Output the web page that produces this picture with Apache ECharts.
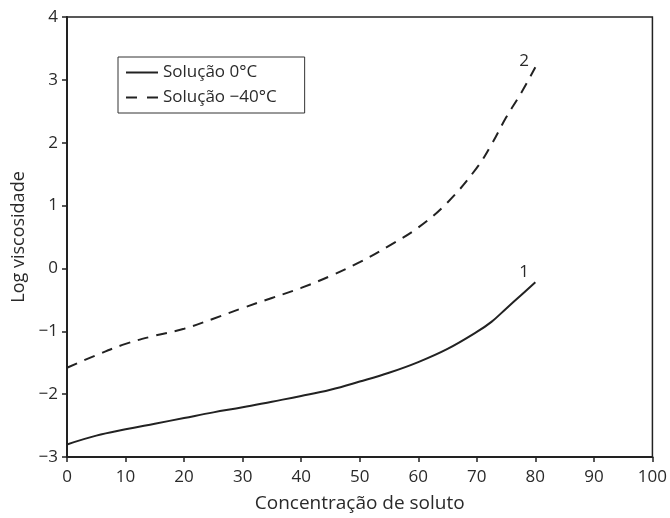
<!DOCTYPE html>
<html>
<head>
<meta charset="utf-8">
<script src="https://cdn.jsdelivr.net/npm/echarts@6/dist/echarts.min.js"></script>
<style>
  html, body { margin: 0; padding: 0; background: #fff; }
  #chart { width: 670px; height: 518px; }
</style>
</head>
<body>
<div id="chart"></div>
<script>
// concentração de soluto (%)
const concentracao = [0, 5, 10, 15, 20, 25, 30, 35, 40, 45, 50, 55, 60, 65, 70, 72.5, 75, 77.5, 80]
// curva 1: solução 0°C
const sol0 = [-2.8, -2.66, -2.56, -2.47, -2.38, -2.29, -2.21, -2.12, -2.03, -1.93, -1.8, -1.66, -1.49, -1.28, -1.01, -0.85, -0.64, -0.43, -0.22]
// curva 2: solução -40°C
const sol40 = [-1.58, -1.38, -1.2, -1.07, -0.96, -0.8, -0.63, -0.47, -0.31, -0.12, 0.1, 0.36, 0.65, 1.05, 1.6, 1.97, 2.4, 2.78, 3.2]

const fontFamily = '"Open Sans", Lato, sans-serif'
const textColor = '#2a2a2a'

const chart = echarts.init(document.getElementById('chart'))

chart.setOption({
  animation: false,
  textStyle: { fontFamily },
  grid: {
    left: 67,
    right: 17,
    top: 17,
    bottom: 60,
    show: true,
    borderColor: '#222',
    borderWidth: 1.5,
  },
  legend: {
    orient: 'vertical',
    left: 118,
    top: 57,
    width: 214,
    itemWidth: 32,
    itemHeight: 14,
    itemGap: 8,
    padding: [7, 28, 7, 8],
    borderColor: '#333',
    borderWidth: 1,
    textStyle: { fontSize: 17, color: textColor, fontFamily },
    data: [
      { name: 'Solução 0°C', icon: 'path://M0,0H32V2H0Z' },
      { name: 'Solução −40°C', icon: 'path://M0,0H11V2H0ZM21,0H32V2H21Z' },
    ],
  },
  xAxis: {
    type: 'value',
    min: 0,
    max: 100,
    interval: 10,
    name: 'Concentração de soluto',
    nameLocation: 'middle',
    nameGap: 37,
    nameTextStyle: { fontSize: 19, color: textColor },
    axisLine: { onZero: false, lineStyle: { color: '#222', width: 2 } },
    axisTick: { inside: false, length: 5, lineStyle: { color: '#222', width: 1.5 } },
    axisLabel: { fontSize: 17, color: textColor, margin: 12 },
    splitLine: { show: false },
  },
  yAxis: {
    type: 'value',
    min: -3,
    max: 4,
    interval: 1,
    name: 'Log viscosidade',
    nameLocation: 'middle',
    nameGap: 32,
    nameTextStyle: { fontSize: 18, color: textColor },
    axisLine: { show: true, onZero: false, lineStyle: { color: '#222', width: 2 } },
    axisTick: { show: true, inside: false, length: 5, lineStyle: { color: '#222', width: 1.5 } },
    axisLabel: {
      fontSize: 17,
      color: textColor,
      margin: 9,
      formatter: v => String(v).replace('-', '−'),
    },
    splitLine: { show: false },
  },
  series: [
    {
      name: 'Solução 0°C',
      type: 'line',
      data: concentracao.map((x, i) => [x, sol0[i]]),
      smooth: 0.4,
      symbol: 'none',
      lineStyle: { color: '#222', width: 2 },
      itemStyle: { color: '#222' },
      endLabel: {
        show: true,
        formatter: '1',
        fontSize: 17,
        color: textColor,
        offset: [-24, -10],
      },
    },
    {
      name: 'Solução −40°C',
      type: 'line',
      data: concentracao.map((x, i) => [x, sol40[i]]),
      smooth: 0.4,
      symbol: 'none',
      lineStyle: { color: '#222', width: 2, type: [11, 8] },
      itemStyle: { color: '#222' },
      endLabel: {
        show: true,
        formatter: '2',
        fontSize: 17,
        color: textColor,
        offset: [-24, -6],
      },
    },
  ],
})
</script>
</body>
</html>
